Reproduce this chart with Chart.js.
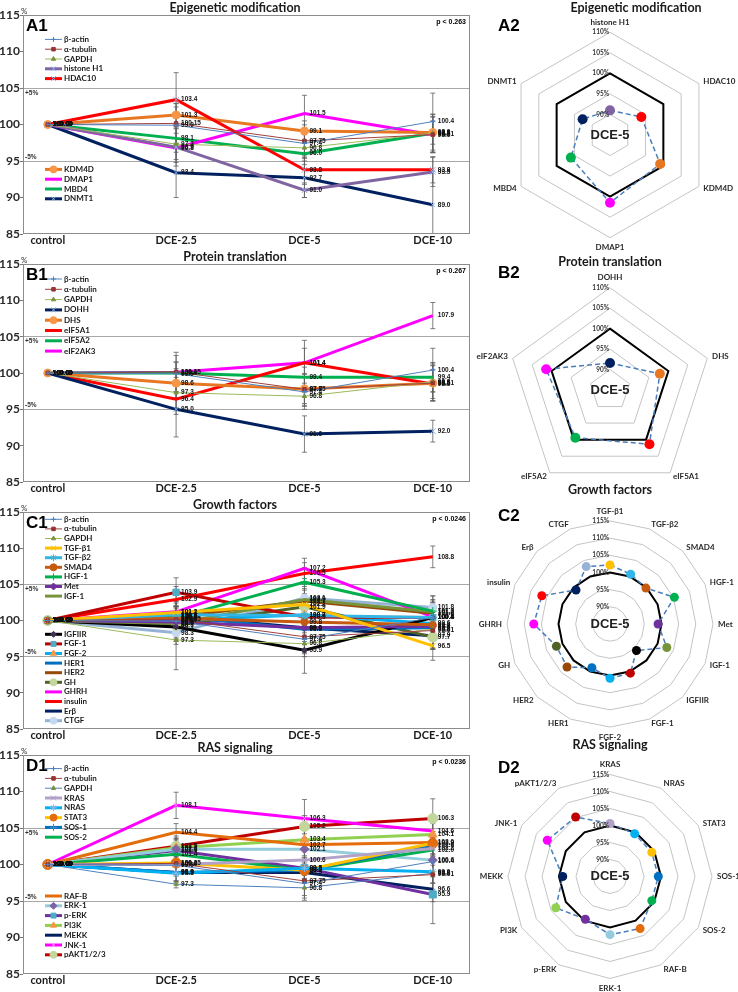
<!DOCTYPE html>
<html>
<head>
<meta charset="utf-8">
<script src="https://cdn.jsdelivr.net/npm/chart.js@4.4.1/dist/chart.umd.min.js"></script>
<style>
body{margin:0;background:#fff;width:738px;height:992px;position:relative;overflow:hidden;}
canvas{position:absolute;}
</style>
</head>
<body>
<canvas id="chartA1" width="480" height="248" style="left:0;top:0"></canvas>
<canvas id="chartB1" width="480" height="247" style="left:0;top:249px"></canvas>
<canvas id="chartC1" width="480" height="246" style="left:0;top:497px"></canvas>
<canvas id="chartD1" width="480" height="248" style="left:0;top:740px"></canvas>
<canvas id="chartA2" width="272" height="252" style="left:466px;top:0"></canvas>
<canvas id="chartB2" width="272" height="240" style="left:466px;top:254px"></canvas>
<canvas id="chartC2" width="272" height="259" style="left:466px;top:482px"></canvas>
<canvas id="chartD2" width="272" height="255" style="left:466px;top:737px"></canvas>
<script>
// ---- datos ----
var categorias = ["control", "DCE-2.5", "DCE-5", "DCE-10"];

var genesA = ["β-actin", "α-tubulin", "GAPDH", "histone H1", "HDAC10", "KDM4D", "DMAP1", "MBD4", "DNMT1"];
var valoresA = [
    [100, 99.9, 97.4, 100.4],
    [100, 100.15, 97.75, 98.61],
    [100, 97.3, 96.8, 98.8],
    [100, 96.9, 91.0, 93.5],
    [100, 103.4, 93.8, 93.8],
    [100, 101.3, 99.1, 98.9],
    [100, 96.8, 101.5, 98.6],
    [100, 98.1, 96.0, 98.8],
    [100, 93.4, 92.7, 89.0]
];
var sdA = [
    [0, 2.5, 2.0, 3.9],
    [0, 2.7, 2.2, 2.5],
    [0, 2.1, 1.8, 2.6],
    [0, 2.6, 1.0, 2.0],
    [0, 3.7, 2.0, 1.8],
    [0, 1.6, 1.4, 1.6],
    [0, 2.0, 2.5, 2.4],
    [0, 1.9, 1.5, 2.6],
    [0, 3.4, 2.7, 4.6]
];

var genesB = ["β-actin", "α-tubulin", "GAPDH", "DOHH", "DHS", "eIF5A1", "eIF5A2", "eIF2AK3"];
var valoresB = [
    [100, 99.9, 97.4, 100.4],
    [100, 100.15, 97.75, 98.61],
    [100, 97.3, 96.8, 98.8],
    [100, 95.0, 91.6, 92.0],
    [100, 98.6, 97.8, 98.6],
    [100, 96.4, 101.4, 98.5],
    [100, 100.0, 99.4, 99.4],
    [100, 100.1, 101.4, 107.9]
];
var sdB = [
    [0, 2.5, 2.0, 3.0],
    [0, 2.7, 2.2, 2.5],
    [0, 2.1, 1.8, 2.6],
    [0, 3.8, 2.5, 1.5],
    [0, 2.0, 2.0, 2.4],
    [0, 2.1, 3.1, 2.0],
    [0, 1.5, 1.4, 2.0],
    [0, 1.4, 2.0, 1.8]
];

var genesC = ["β-actin", "α-tubulin", "GAPDH", "TGF-β1", "TGF-β2", "SMAD4", "HGF-1", "Met", "IGF-1",
              "IGFIIR", "FGF-1", "FGF-2", "HER1", "HER2", "GH", "GHRH", "insulin", "Erβ", "CTGF"];
var valoresC = [
    [100, 99.9, 97.4, 100.4],
    [100, 100.15, 97.75, 98.61],
    [100, 97.3, 96.8, 98.8],
    [100, 101.1, 102.2, 96.5],
    [100, 100.8, 100.7, 100.4],
    [100, 100.3, 99.8, 99.4],
    [100, 100.4, 105.3, 101.3],
    [100, 99.8, 99.0, 99.2],
    [100, 99.6, 102.9, 101.2],
    [100, 99.1, 95.9, 100.4],
    [100, 103.9, 100.5, 100.4],
    [100, 100.0, 100.8, 99.6],
    [100, 100.6, 98.8, 99.0],
    [100, 100.5, 102.7, 101.0],
    [100, 99.3, 101.9, 97.7],
    [100, 101.2, 107.2, 100.5],
    [100, 102.9, 106.5, 108.8],
    [100, 100.6, 99.0, 97.9],
    [100, 98.3, 103.1, 101.8]
];
var sdC = [
    [0, 2.5, 2.0, 3.0],
    [0, 2.7, 2.2, 2.5],
    [0, 4.1, 1.8, 2.6],
    [0, 1.5, 1.5, 2.0],
    [0, 1.2, 1.3, 1.5],
    [0, 1.4, 1.5, 1.4],
    [0, 1.5, 2.0, 1.6],
    [0, 1.2, 1.6, 1.4],
    [0, 1.6, 1.5, 1.5],
    [0, 2.0, 3.2, 2.0],
    [0, 2.0, 1.6, 1.5],
    [0, 1.3, 1.5, 1.6],
    [0, 1.4, 1.7, 1.5],
    [0, 1.5, 1.5, 1.5],
    [0, 1.6, 1.5, 1.7],
    [0, 1.5, 1.4, 1.6],
    [0, 1.8, 1.5, 1.5],
    [0, 1.3, 1.6, 1.9],
    [0, 1.6, 1.6, 1.6]
];

var genesD = ["β-actin", "α-tubulin", "GAPDH", "KRAS", "NRAS", "STAT3", "SOS-1", "SOS-2", "RAF-B",
              "ERK-1", "p-ERK", "PI3K", "MEKK", "JNK-1", "pAKT1/2/3"];
var valoresD = [
    [100, 99.9, 97.4, 100.4],
    [100, 100.15, 97.75, 98.61],
    [100, 97.3, 96.8, 98.8],
    [100, 100.0, 100.6, 102.2],
    [100, 98.8, 99.5, 99.0],
    [100, 100.2, 99.2, 102.9],
    [100, 98.9, 99.2, 102.6],
    [100, 101.4, 99.2, 102.0],
    [100, 104.4, 102.7, 103.0],
    [100, 102.1, 102.1, 100.6],
    [100, 101.9, 99.5, 95.9],
    [100, 102.3, 103.4, 104.1],
    [100, 98.9, 98.9, 96.6],
    [100, 108.1, 106.3, 104.6],
    [100, 102.5, 105.2, 106.3]
];
var sdD = [
    [0, 1.5, 2.0, 3.0],
    [0, 1.5, 2.0, 2.0],
    [0, 0.5, 1.7, 2.5],
    [0, 1.3, 1.5, 1.5],
    [0, 1.2, 1.4, 1.5],
    [0, 1.4, 1.3, 1.6],
    [0, 1.3, 1.4, 1.5],
    [0, 1.5, 1.5, 1.6],
    [0, 1.2, 1.5, 1.5],
    [0, 1.5, 1.4, 1.5],
    [0, 1.5, 1.5, 4.0],
    [0, 1.3, 1.5, 1.5],
    [0, 1.2, 1.3, 1.7],
    [0, 1.8, 2.6, 1.6],
    [0, 1.4, 1.5, 2.7]
];

// ---- estilos: [color linea, grosor, marcador, radio, color marcador] ----
var refEstilo = [
    ["#4F81BD", 1, "cross", 2.5, "#4F81BD"],
    ["#A0403C", 1, "rect", 2.5, "#943634"],
    ["#9BBB59", 1, "triangle", 2.5, "#77933C"]
];
var estiloA = refEstilo.concat([
    ["#8064A2", 3, "crossRot", 4, "#8EB4E3"],
    ["#FF0000", 3, "crossRot", 4, "#8EB4E3"],
    ["#E87722", 3, "circle", 4, "#F79646"],
    ["#FF00FF", 3, null],
    ["#00B050", 3, null],
    ["#002060", 3, "crossRot", 3, "#8EB4E3"]
]);
var estiloB = refEstilo.concat([
    ["#002060", 3, "crossRot", 4, "#8EB4E3"],
    ["#E87722", 3, "circle", 4, "#F79646"],
    ["#FF0000", 3, null],
    ["#00B050", 3, null],
    ["#FF00FF", 3, null]
]);
var estiloC = refEstilo.concat([
    ["#FFC000", 3, "crossRot", 4, "#F2C200"],
    ["#31B6E7", 3, "star", 4, "#4BACC6"],
    ["#C55A11", 3, "circle", 3.5, "#C55A11"],
    ["#00B050", 3, "cross", 4, "#00B050"],
    ["#7030A0", 3, "rectRot", 3.5, "#7030A0"],
    ["#77933C", 3, null],
    ["#000000", 3, "rectRot", 3, "#403152"],
    ["#C00000", 3, "rect", 4.5, "#4BACC6"],
    ["#00B0F0", 3, "triangle", 4.5, "#F79646"],
    ["#0070C0", 3, null],
    ["#984807", 3, null],
    ["#4F6228", 3, "circle", 5, "#C3D69B"],
    ["#FF00FF", 3, null],
    ["#FF0000", 3, null],
    ["#002060", 3, null],
    ["#95B3D7", 3, "circle", 4, "#C6D9F1"]
]);
var estiloD = [
    ["#4F81BD", 1, "cross", 2.5, "#4F81BD"],
    ["#A0403C", 1, "rect", 2.5, "#943634"],
    ["#4F81BD", 1, "triangle", 2.5, "#77933C"],
    ["#B3A2C7", 3, "crossRot", 4, "#B3A2C7"],
    ["#00B0F0", 3, "star", 4, "#8EB4E3"],
    ["#FFC000", 3, "circle", 5, "#E46C0A"],
    ["#0070C0", 3, "cross", 4, "#4F81BD"],
    ["#00B050", 3, null],
    ["#E46C0A", 3, null],
    ["#93CDDD", 3, "rectRot", 4.5, "#8064A2"],
    ["#7030A0", 3, "rect", 5, "#4BACC6"],
    ["#92D050", 3, "triangle", 5, "#F79646"],
    ["#002060", 3, null],
    ["#FF00FF", 3, "crossRot", 4, "#FF99FF"],
    ["#C00000", 3, "circle", 5, "#C3D69B"]
];

var FUENTE = "Lato, 'Liberation Sans', sans-serif";
var ARIAL = "'Liberation Sans', Arial, sans-serif";

function formato(v, k){
    if(k === 0) return v.toFixed(2);
    return (Math.round(v * 100) % 10 === 0) ? v.toFixed(1) : v.toFixed(2);
}

var lineaPlugin = {
    id: 'extrasLinea',
    beforeDatasetsDraw: function(chart){
        var ctx = chart.ctx, xs = chart.scales.x, ys = chart.scales.y, a = chart.chartArea;
        ctx.save();
        ctx.beginPath(); ctx.rect(a.left, a.top, a.right - a.left, a.bottom - a.top); ctx.clip();
        ctx.strokeStyle = '#5f5f5f'; ctx.lineWidth = 0.8;
        chart.data.datasets.forEach(function(ds){
            ds.data.forEach(function(p, k){
                var s = ds.sd[k]; if(!s) return;
                var x = xs.getPixelForValue(p.x);
                var y1 = ys.getPixelForValue(p.y - s), y2 = ys.getPixelForValue(p.y + s);
                ctx.beginPath();
                ctx.moveTo(x, y1); ctx.lineTo(x, y2);
                ctx.moveTo(x - 2.5, y1); ctx.lineTo(x + 2.5, y1);
                ctx.moveTo(x - 2.5, y2); ctx.lineTo(x + 2.5, y2);
                ctx.stroke();
            });
        });
        ctx.restore();
    },
    afterDatasetsDraw: function(chart, args, op){
        var ctx = chart.ctx, xs = chart.scales.x, ys = chart.scales.y, a = chart.chartArea;
        ctx.save();
        // marco
        ctx.strokeStyle = '#8c8c8c'; ctx.lineWidth = 1;
        ctx.strokeRect(a.left + 0.5, a.top + 0.5, a.right - a.left - 1, a.bottom - a.top - 1);
        // valores
        ctx.fillStyle = '#111'; ctx.font = 'bold 6.5px ' + ARIAL;
        ctx.textAlign = 'left'; ctx.textBaseline = 'middle';
        chart.data.datasets.forEach(function(ds){
            ds.data.forEach(function(p, k){
                ctx.fillText(formato(p.y, k), xs.getPixelForValue(p.x) + 5, ys.getPixelForValue(p.y));
            });
        });
        // leyenda
        chart.data.datasets.forEach(function(ds, i){
            var g = op.grupos.filter(function(gg){ return gg.desde <= i; }).pop();
            var y = a.top + g.y + (i - g.desde) * op.espacio;
            var x0 = a.left + 22, x1 = a.left + 39;
            ctx.strokeStyle = ds.borderColor; ctx.lineWidth = Math.min(ds.borderWidth, 3);
            ctx.beginPath(); ctx.moveTo(x0, y); ctx.lineTo(x1, y); ctx.stroke();
            if(ds.pointRadius > 0){
                ctx.fillStyle = ds.pointBackgroundColor; ctx.strokeStyle = ds.pointBorderColor; ctx.lineWidth = 1;
                Chart.helpers.drawPoint(ctx, {pointStyle: ds.pointStyle, radius: Math.min(ds.pointRadius, 3.5), borderWidth: 1, rotation: 0}, (x0 + x1) / 2, y);
            }
            ctx.fillStyle = '#1a1a1a'; ctx.font = 'bold 8px ' + FUENTE;
            ctx.textAlign = 'left'; ctx.textBaseline = 'middle';
            ctx.fillText(ds.label, x1 + 2, y);
        });
        // textos
        ctx.fillStyle = '#000'; ctx.font = 'bold 17px ' + ARIAL; ctx.textBaseline = 'alphabetic';
        ctx.fillText(op.letra, a.left + 3, a.top + 16);
        ctx.font = 'bold 7px ' + ARIAL; ctx.textAlign = 'right'; ctx.textBaseline = 'middle';
        ctx.fillText(op.pvalor, a.right - 4, a.top + 7);
        ctx.textAlign = 'left'; ctx.font = 'bold 6.5px ' + ARIAL; ctx.fillStyle = '#333';
        ctx.fillText('+5%', a.left + 2, ys.getPixelForValue(105) + 5);
        ctx.fillText('-5%', a.left + 2, ys.getPixelForValue(95) - 4);
        ctx.font = '8px ' + FUENTE;
        ctx.fillText('%', a.left - 2, a.top - 4);
        ctx.restore();
    }
};

function armarSeries(nombres, valores, desv, estilo){
    return nombres.map(function(n, i){
        var e = estilo[i];
        return {
            label: n,
            data: valores[i].map(function(v, k){ return {x: k, y: v}; }),
            sd: desv[i],
            borderColor: e[0], borderWidth: e[1],
            pointStyle: e[2] || 'circle', pointRadius: e[2] ? e[3] : 0,
            pointBackgroundColor: e[4] || e[0], pointBorderColor: e[4] || e[0],
            pointBorderWidth: 1, tension: 0, fill: false
        };
    });
}

function Mostrar_Linea(id, titulo, nombres, valores, desv, estilo, extras){
    var canvas = document.getElementById(id).getContext('2d');
    return new Chart(canvas, {
        type: 'line',
        data: { datasets: armarSeries(nombres, valores, desv, estilo) },
        options: {
            responsive: false, animation: false,
            layout: { padding: { right: 10, left: 0, top: 0, bottom: 0 } },
            plugins: {
                legend: { display: false },
                tooltip: { enabled: false },
                title: { display: true, text: titulo, color: '#1a1a1a',
                         font: { family: FUENTE, size: 12.5, weight: 'bold' }, padding: { top: 0, bottom: 0 } },
                extrasLinea: extras
            },
            scales: {
                x: {
                    type: 'linear', min: -0.193, max: 3.29,
                    afterBuildTicks: function(s){ s.ticks = categorias.map(function(c, i){ return {value: i}; }); },
                    afterFit: function(s){ s.height = 14; },
                    ticks: { callback: function(v){ return categorias[v]; }, color: '#1a1a1a', padding: 0,
                             maxRotation: 0, autoSkip: false,
                             font: { family: FUENTE, size: 11, weight: 'bold' } },
                    grid: { display: false, drawTicks: false },
                    border: { display: false }
                },
                y: {
                    min: 85, max: 115,
                    afterFit: function(s){ s.width = 23; },
                    ticks: { stepSize: 5, color: '#2a2a2a', padding: 0,
                             font: { family: FUENTE, size: 12, weight: 'bold' } },
                    grid: {
                        color: function(c){ return (c.tick && (c.tick.value === 95 || c.tick.value === 105)) ? '#a8a8a8' : 'rgba(0,0,0,0)'; },
                        tickColor: '#777', tickLength: 3, lineWidth: 1
                    },
                    border: { display: false }
                }
            }
        },
        plugins: [lineaPlugin]
    });
}

// ---- radar ----
var radarPlugin = {
    id: 'extrasRadar',
    afterDatasetsDraw: function(chart, args, op){
        var ctx = chart.ctx, r = chart.scales.r;
        var cx = r.xCenter, cy = r.yCenter, R = r.drawingArea;
        var labels = chart.data.labels, n = labels.length;
        ctx.save();
        // etiquetas de ejes
        ctx.fillStyle = '#2a2a2a'; ctx.font = 'bold 8px ' + FUENTE; ctx.textBaseline = 'middle';
        labels.forEach(function(l, i){
            var ang = 2 * Math.PI * i / n, s = Math.sin(ang), c = Math.cos(ang);
            var x = cx + (R + 5) * s, y = cy - (R + 5) * c;
            if(Math.abs(s) < 0.1){ ctx.textAlign = 'center'; y -= 5 * c; }
            else { ctx.textAlign = s > 0 ? 'left' : 'right'; }
            ctx.fillText(l, x, y);
        });
        // ticks de porcentaje
        ctx.font = 'bold 6.5px ' + FUENTE; ctx.textAlign = 'right'; ctx.fillStyle = '#333';
        r.ticks.forEach(function(t, i){
            if(i === 0) return;
            ctx.fillText(t.value + '%', cx - 1, cy - r.getDistanceFromCenterForValue(t.value));
        });
        // centro y letra
        ctx.fillStyle = '#222'; ctx.font = 'bold 13px ' + ARIAL; ctx.textAlign = 'center';
        ctx.fillText(op.centro, cx, cy);
        ctx.fillStyle = '#000'; ctx.font = 'bold 17px ' + ARIAL; ctx.textAlign = 'left'; ctx.textBaseline = 'alphabetic';
        ctx.fillText(op.letra, op.lx, op.ly);
        ctx.restore();
    }
};

function Mostrar_Radar(id, titulo, nombres, valores, estilo, geo){
    var genes = nombres.slice(3);
    var dce5 = valores.slice(3).map(function(v){ return v[2]; });
    var control = valores.slice(3).map(function(v){ return v[0]; });
    var colores = estilo.slice(3).map(function(e){ return e[0]; });
    var canvas = document.getElementById(id).getContext('2d');
    return new Chart(canvas, {
        type: 'radar',
        data: {
            labels: genes,
            datasets: [
                { label: categorias[2], data: dce5, borderColor: '#4A7EBB', borderWidth: 1.5, borderDash: [5, 3],
                  pointRadius: geo.pr, pointBackgroundColor: colores, pointBorderColor: colores, pointBorderWidth: 0, fill: false },
                { label: categorias[0], data: control, borderColor: '#000', borderWidth: 2, pointRadius: 0, fill: false }
            ]
        },
        options: {
            responsive: false, animation: false,
            layout: { padding: { left: geo.padIzq, right: 0, top: 0, bottom: 0 } },
            plugins: {
                legend: { display: false }, tooltip: { enabled: false },
                title: { display: true, text: titulo, color: '#1a1a1a',
                         font: { family: FUENTE, size: 12.5, weight: 'bold' }, padding: { top: 0, bottom: 0 } },
                extrasRadar: { letra: geo.letra, lx: 32, ly: geo.ly, centro: categorias[2] }
            },
            scales: {
                r: {
                    min: 85, max: geo.max,
                    ticks: { display: false, stepSize: 5 },
                    pointLabels: { display: false },
                    angleLines: { display: false },
                    grid: { color: '#c4c4c4', lineWidth: 1 },
                    afterFit: function(s){ s.xCenter = geo.cx; s.yCenter = geo.cy; s.drawingArea = geo.R; }
                }
            }
        },
        plugins: [radarPlugin]
    });
}

Mostrar_Linea('chartA1', 'Epigenetic modification', genesA, valoresA, sdA, estiloA,
    { letra: 'A1', pvalor: 'p < 0.263', espacio: 9.8, grupos: [{desde: 0, y: 24.4}, {desde: 5, y: 154.4}] });
Mostrar_Linea('chartB1', 'Protein translation', genesB, valoresB, sdB, estiloB,
    { letra: 'B1', pvalor: 'p < 0.267', espacio: 10.3, grupos: [{desde: 0, y: 15}] });
Mostrar_Linea('chartC1', 'Growth factors', genesC, valoresC, sdC, estiloC,
    { letra: 'C1', pvalor: 'p < 0.0246', espacio: 9.6, grupos: [{desde: 0, y: 7.3}, {desde: 9, y: 122.3}] });
Mostrar_Linea('chartD1', 'RAS signaling', genesD, valoresD, sdD, estiloD,
    { letra: 'D1', pvalor: 'p < 0.0236', espacio: 9.8, grupos: [{desde: 0, y: 13.6}, {desde: 8, y: 141}] });

Mostrar_Radar('chartA2', 'Epigenetic modification', genesA, valoresA, estiloA,
    { cx: 144, cy: 135, R: 102.7, max: 110, pr: 5, letra: 'A2', ly: 31, padIzq: 68 });
Mostrar_Radar('chartB2', 'Protein translation', genesB, valoresB, estiloB,
    { cx: 144, cy: 136, R: 102.3, max: 110, pr: 5, letra: 'B2', ly: 24, padIzq: 16 });
Mostrar_Radar('chartC2', 'Growth factors', genesC, valoresC, estiloC,
    { cx: 144, cy: 142, R: 103, max: 115, pr: 4.5, letra: 'C2', ly: 39, padIzq: 16 });
Mostrar_Radar('chartD2', 'RAS signaling', genesD, valoresD, estiloD,
    { cx: 144, cy: 139.5, R: 102, max: 115, pr: 4.5, letra: 'D2', ly: 36, padIzq: 16 });
</script>
</body>
</html>
